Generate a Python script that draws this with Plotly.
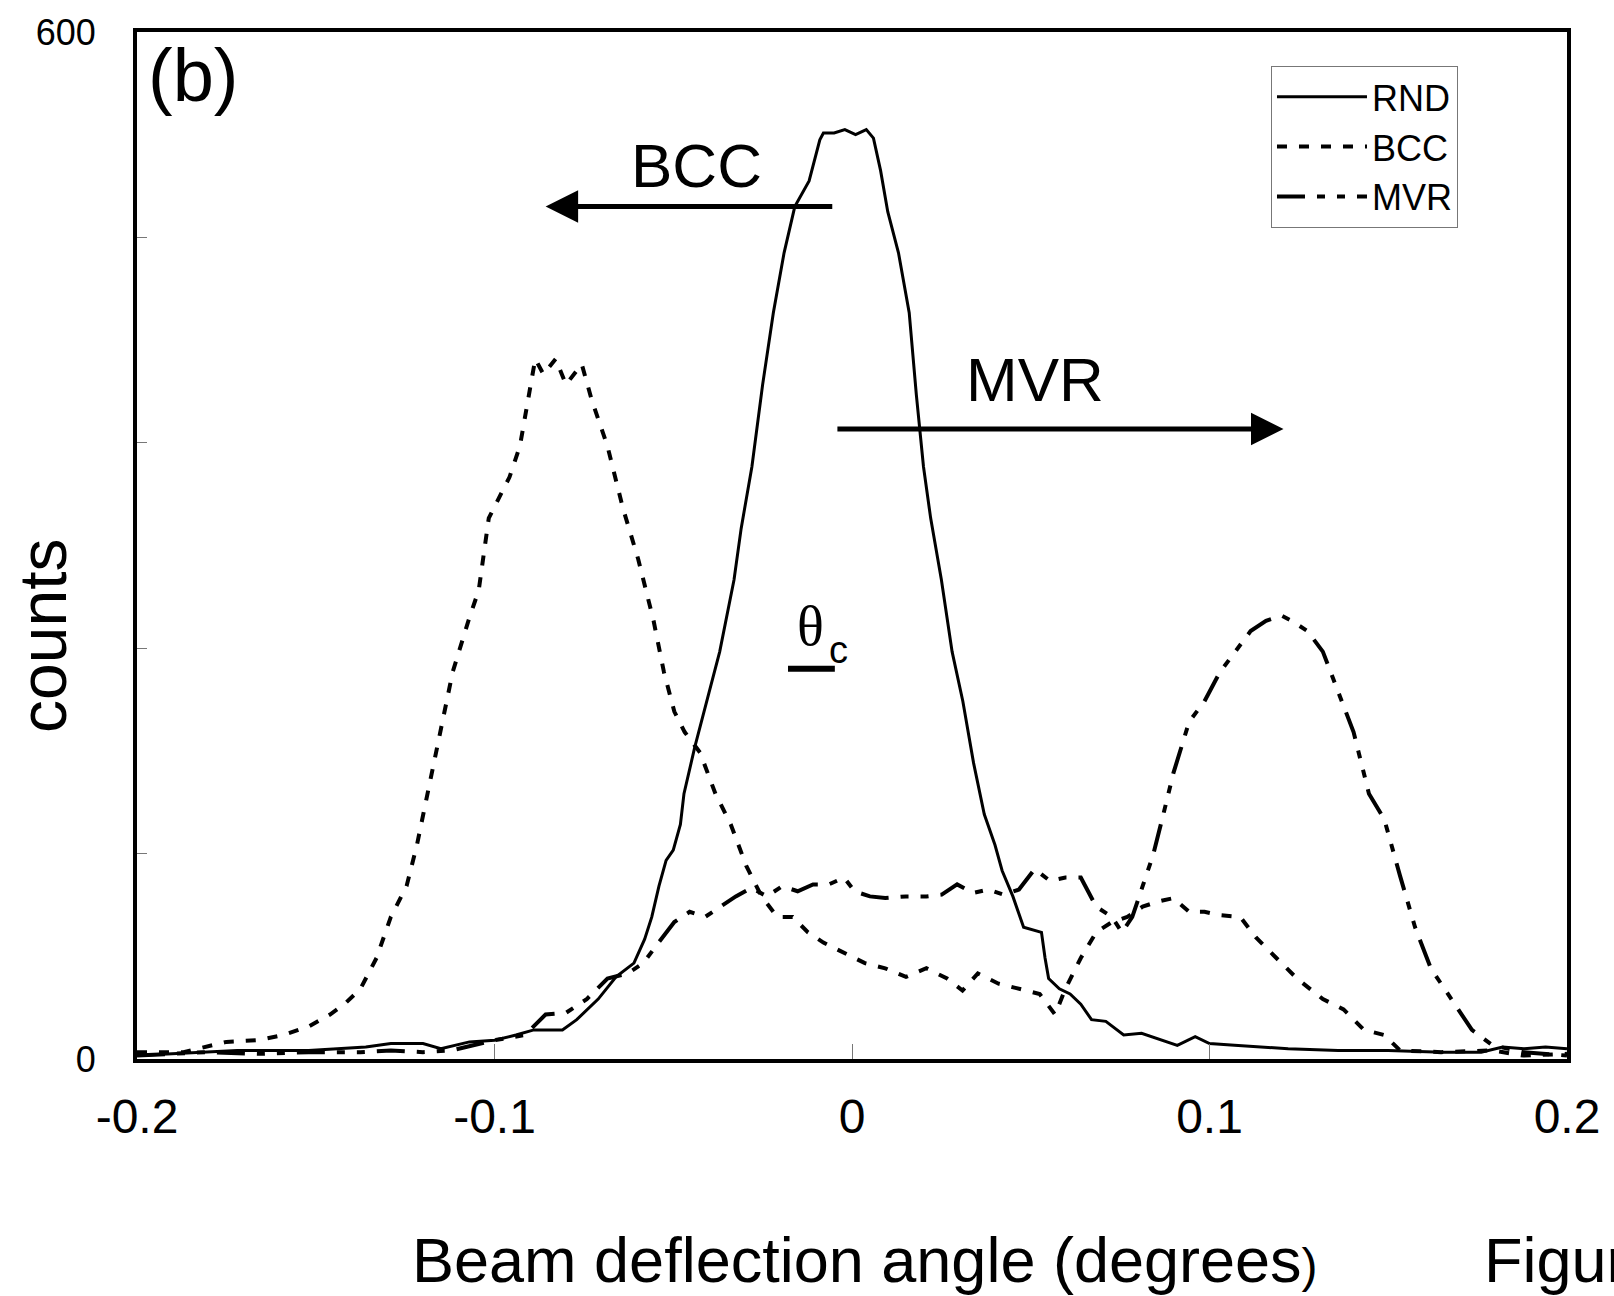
import plotly.graph_objects as go

# Beam deflection angle (degrees) and counts for each crystal orientation
rnd_angle = [-0.200, -0.172, -0.152, -0.136, -0.129, -0.120, -0.115, -0.107, -0.100, -0.094,
             -0.089, -0.081, -0.077, -0.071, -0.066, -0.061, -0.058, -0.056, -0.054, -0.052,
             -0.050, -0.048, -0.047, -0.044, -0.040, -0.037, -0.033, -0.031, -0.028, -0.025,
             -0.022, -0.019, -0.016, -0.012, -0.009, -0.008, -0.005, -0.002, 0.001, 0.004,
             0.006, 0.008, 0.010, 0.013, 0.016, 0.018, 0.020, 0.022, 0.025, 0.028,
             0.031, 0.034, 0.037, 0.040, 0.042, 0.045, 0.048, 0.053, 0.054, 0.055,
             0.058, 0.061, 0.064, 0.067, 0.071, 0.076, 0.081, 0.087, 0.091, 0.096,
             0.100, 0.107, 0.122, 0.136, 0.150, 0.165, 0.176, 0.182, 0.188, 0.194,
             0.200]
rnd_counts = [2, 5, 5, 7, 9, 9, 6, 10, 11, 14,
              17, 17, 23, 35, 48, 56, 70, 83, 101, 116,
              122, 137, 155, 182, 214, 238, 280, 310, 346, 394,
              436, 471, 498, 513, 537, 541, 541, 543, 540, 543,
              538, 519, 495, 471, 436, 388, 346, 316, 280, 238,
              209, 173, 143, 125, 110, 95, 77, 74, 59, 47,
              41, 38, 32, 23, 22, 14, 15, 11, 8, 13,
              9, 8, 6, 5, 5, 4, 4, 7, 6, 7,
              6]

bcc_angle = [-0.200, -0.187, -0.175, -0.166, -0.159, -0.152, -0.146, -0.142, -0.1375, -0.133,
             -0.129, -0.1246, -0.1217, -0.1188, -0.1159, -0.1117, -0.1073, -0.1044, -0.1016, -0.0987,
             -0.0958, -0.0929, -0.0901, -0.0886, -0.0863, -0.0829, -0.0800, -0.0756, -0.0728, -0.0684,
             -0.0641, -0.0598, -0.0555, -0.0526, -0.0497, -0.0468, -0.0425, -0.0382, -0.0339, -0.0296,
             -0.0253, -0.0209, -0.0166, -0.0123, -0.0080, -0.0022, 0.0036, 0.0093, 0.0151, 0.0208,
             0.0266, 0.0309, 0.0352, 0.0410, 0.0467, 0.0525, 0.0568, 0.0597, 0.0640, 0.0683,
             0.0727, 0.0770, 0.0813, 0.0856, 0.0899, 0.0943, 0.0986, 0.1029, 0.1086, 0.1130,
             0.1187, 0.1245, 0.1317, 0.1375, 0.1432, 0.1489, 0.1533, 0.1648, 0.1792, 0.1878,
             0.200]
bcc_counts = [4, 4, 10, 11, 14, 19, 26, 32, 41, 59,
              83, 101, 125, 155, 185, 226, 256, 274, 316, 328,
              340, 358, 391, 409, 400, 409, 394, 406, 385, 358,
              322, 292, 256, 226, 203, 191, 179, 155, 137, 113,
              95, 83, 83, 74, 68, 62, 56, 53, 48, 53,
              47, 40, 50, 44, 41, 38, 26, 41, 59, 74,
              80, 83, 89, 92, 94, 86, 86, 84, 83, 71,
              59, 47, 35, 29, 17, 14, 5, 4, 5, 2,
              3]

mvr_angle = [-0.200, -0.181, -0.166, -0.152, -0.1375, -0.129, -0.120, -0.112, -0.100, -0.0915,
             -0.0857, -0.0800, -0.0742, -0.0684, -0.0627, -0.0584, -0.0541, -0.0497, -0.0454, -0.0411,
             -0.0368, -0.0325, -0.0282, -0.0238, -0.0195, -0.0152, -0.0109, -0.0065, -0.0022, 0.0007,
             0.0050, 0.0093, 0.0151, 0.0208, 0.0251, 0.0294, 0.0338, 0.0381, 0.0424, 0.0467,
             0.0511, 0.0554, 0.0597, 0.0640, 0.0683, 0.0727, 0.0755, 0.0784, 0.0813, 0.0842,
             0.0871, 0.0899, 0.0943, 0.0986, 0.1029, 0.1072, 0.1115, 0.1158, 0.1202, 0.1230,
             0.1274, 0.1317, 0.1360, 0.1403, 0.1446, 0.1489, 0.1533, 0.1575, 0.1619, 0.1677,
             0.1734, 0.1792, 0.1878, 0.200]
mvr_counts = [2, 4, 3, 4, 4, 5, 4, 5, 11, 14,
              26, 27, 35, 47, 50, 56, 68, 80, 86, 83,
              89, 95, 100, 95, 101, 98, 102, 102, 106, 98,
              95, 94, 95, 95, 96, 102, 97, 99, 96, 99,
              111, 104, 106, 106, 89, 83, 74, 83, 101, 119,
              143, 167, 197, 209, 226, 238, 250, 256, 259, 256,
              250, 238, 214, 191, 155, 140, 107, 77, 53, 35,
              17, 8, 4, 2]

x_ticks = [-0.2, -0.1, 0, 0.1, 0.2]
x_tick_text = ["-0.2", "-0.1", "0", "0.1", "0.2"]
y_ticks = [0, 120, 240, 360, 480, 600]
y_tick_text = ["0", "", "", "", "", "600"]

SANS = "Liberation Sans, Arial, sans-serif"
SERIF = "Liberation Serif, Times New Roman, serif"

fig = go.Figure()
fig.add_trace(go.Scatter(x=rnd_angle, y=rnd_counts, mode="lines", name="RND",
                         line=dict(color="black", width=3)))
fig.add_trace(go.Scatter(x=bcc_angle, y=bcc_counts, mode="lines", name="BCC",
                         line=dict(color="black", width=4, dash="10px,12px")))
fig.add_trace(go.Scatter(x=mvr_angle, y=mvr_counts, mode="lines", name="MVR",
                         line=dict(color="black", width=4,
                                   dash="28px,12px,8px,12px,8px,12px")))

annotations = [
    # axis titles
    dict(text="Beam deflection angle (degrees<span style='font-size:48px'>)</span>",
         xref="paper", yref="paper", x=0.509, y=-0.1955, xanchor="center", yanchor="middle",
         showarrow=False, font=dict(family=SANS, size=63, color="black")),
    dict(text="counts", textangle=-90, xref="paper", yref="paper", x=-0.0657, y=0.412,
         xanchor="center", yanchor="middle", showarrow=False,
         font=dict(family=SANS, size=66, color="black")),
    dict(text="Figure", xref="paper", yref="paper", x=0.9406, y=-0.1955,
         xanchor="left", yanchor="middle", showarrow=False,
         font=dict(family=SANS, size=63, color="black")),
    # panel label
    dict(text="(b)", xref="paper", yref="paper", x=0.039, y=0.958,
         xanchor="center", yanchor="middle", showarrow=False,
         font=dict(family=SANS, size=74, color="black")),
    # deflection direction arrows
    dict(x=-0.0857, y=498, ax=-0.0051, ay=498, xref="x", yref="y", axref="x", ayref="y",
         text="", showarrow=True, arrowhead=2, arrowsize=1.3, arrowwidth=5, arrowcolor="black"),
    dict(x=0.1207, y=368, ax=-0.0045, ay=368, xref="x", yref="y", axref="x", ayref="y",
         text="", showarrow=True, arrowhead=2, arrowsize=1.3, arrowwidth=5, arrowcolor="black"),
    dict(text="BCC", x=-0.0436, y=522, xref="x", yref="y", showarrow=False,
         font=dict(family=SANS, size=62, color="black")),
    dict(text="MVR", x=0.0512, y=397, xref="x", yref="y", showarrow=False,
         font=dict(family=SANS, size=62, color="black")),
    # critical angle marker
    dict(text="θ", x=-0.0117, y=253, xref="x", yref="y", showarrow=False,
         font=dict(family=SERIF, size=56, color="black")),
    dict(text="c", x=-0.0039, y=239, xref="x", yref="y", showarrow=False,
         font=dict(family=SANS, size=38, color="black")),
]

fig.add_shape(type="line", xref="x", yref="y", x0=-0.0179, x1=-0.0048, y0=228, y1=228,
              line=dict(color="black", width=6))

fig.update_layout(
    width=1614, height=1296,
    margin=dict(l=137, r=47, t=26, b=237),
    paper_bgcolor="white", plot_bgcolor="white",
    font=dict(family=SANS, color="black"),
    annotations=annotations,
    showlegend=True,
    legend=dict(x=0.793, y=0.967, xanchor="left", yanchor="top",
                bgcolor="white", bordercolor="#777777", borderwidth=1,
                font=dict(family=SANS, size=36, color="black"),
                itemwidth=90, tracegroupgap=0),
    xaxis=dict(range=[-0.2, 0.2], tickvals=x_ticks, ticktext=x_tick_text,
               ticks="inside", ticklen=15, tickwidth=1, tickcolor="#777777",
               showline=True, linewidth=4, linecolor="black", mirror=True,
               showgrid=False, zeroline=False, ticklabelstandoff=12,
               tickfont=dict(family=SANS, size=48, color="black")),
    yaxis=dict(range=[0, 600], tickvals=y_ticks, ticktext=y_tick_text,
               ticks="inside", ticklen=10, tickwidth=1, tickcolor="#777777",
               showline=True, linewidth=4, linecolor="black", mirror=True,
               showgrid=False, zeroline=False, ticklabelstandoff=30,
               tickfont=dict(family=SANS, size=36, color="black")),
)

fig.write_html("out.html")
